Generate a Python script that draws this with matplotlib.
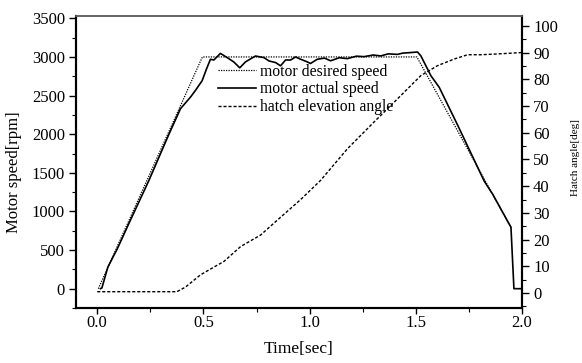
import matplotlib
matplotlib.use("Agg")
import matplotlib.pyplot as plt
from matplotlib.ticker import MultipleLocator

plt.rcParams['font.family'] = ['Liberation Serif', 'DejaVu Serif']
plt.rcParams['font.size'] = 10

# desired speed
t_des = [0.005, 0.495, 1.505, 1.948]
v_des = [0, 3000, 3000, 790]

# actual speed
t_act = [0.015, 0.022, 0.05, 0.094, 0.15, 0.242, 0.336, 0.392, 0.439, 0.462, 0.494, 0.514,
         0.533, 0.549, 0.580, 0.612, 0.643, 0.671, 0.698, 0.745, 0.785, 0.809, 0.840,
         0.863, 0.887, 0.910, 0.934, 0.958, 0.989, 1.004, 1.036, 1.07, 1.099, 1.14, 1.178,
         1.22, 1.256, 1.30, 1.335, 1.37, 1.413, 1.44, 1.468, 1.508, 1.524, 1.571, 1.610,
         1.700, 1.822, 1.862, 1.948, 1.962, 2.0]
v_act = [0, 10, 280, 514, 850, 1393, 1990, 2330, 2480, 2565, 2693, 2841,
         2970, 2960, 3046, 2991, 2935, 2859, 2936, 3012, 2991, 2948, 2927,
         2885, 2961, 2960, 3000, 2970, 2936, 2915, 2970, 2985, 2950, 2990, 2978,
         3010, 3004, 3025, 3013, 3040, 3033, 3050, 3055, 3064, 3013, 2757, 2608,
         2100, 1393, 1223, 796, 0, 0]

# hatch elevation angle
t_hat = [0.0, 0.375, 0.415, 0.486, 0.549, 0.596, 0.675, 0.769, 0.848, 0.958, 1.052,
         1.178, 1.303, 1.39, 1.453, 1.524, 1.602, 1.681, 1.744, 1.807, 1.885, 1.995]
a_hat = [0.5, 0.5, 2.2, 6.8, 9.7, 11.8, 17.4, 21.7, 27.3, 35.0, 42.2,
         54.0, 64.0, 70.8, 75.8, 81.4, 85.1, 87.6, 89.2, 89.2, 89.5, 90.0]

labels = ['motor desired speed', 'motor actual speed', 'hatch elevation angle']

W, H = 582, 363
fig = plt.figure(figsize=(W/100, H/100), dpi=100)
L, R, T, B = 76, 522, 16, 308
ax = fig.add_axes([L/W, 1-B/H, (R-L)/W, (B-T)/H])
ax2 = ax.twinx()

l1, = ax.plot(t_des, v_des, color='black', lw=0.9, linestyle=(0, (1, 1)))
l2, = ax.plot(t_act, v_act, color='black', lw=1.2, linestyle='-')
l3, = ax2.plot(t_hat, a_hat, color='black', lw=1.0, linestyle=(0, (2.2, 1.4)))

ax.set_xlim(-0.1, 2.0)
ax.set_ylim(-250, 3530)
ax2.set_ylim(-5.6, 103.7)

ax.xaxis.set_major_locator(MultipleLocator(0.5))
ax.xaxis.set_minor_locator(MultipleLocator(0.25))
ax.yaxis.set_major_locator(MultipleLocator(500))
ax.yaxis.set_minor_locator(MultipleLocator(250))
ax2.yaxis.set_major_locator(MultipleLocator(10))
ax2.yaxis.set_minor_locator(MultipleLocator(5))
ax.set_xticks([0.0, 0.5, 1.0, 1.5, 2.0])
ax.set_xticklabels(['0.0', '0.5', '1.0', '1.5', '2.0'])
ax2.set_yticks(list(range(0, 101, 10)))

for a in (ax, ax2):
    a.tick_params(which='major', direction='out', length=5, width=1.0, labelsize=12, pad=3)
    a.tick_params(which='minor', direction='out', length=3, width=0.8)
ax.tick_params(axis='x', which='major', length=4, pad=1)
ax.tick_params(top=False, right=False)
ax2.tick_params(top=False, left=False)

for a in (ax, ax2):
    a.spines['left'].set_linewidth(1.5)
    a.spines['bottom'].set_linewidth(1.5)
    a.spines['right'].set_linewidth(1.5)
    a.spines['top'].set_linewidth(1.2)
    a.spines['top'].set_color('#666666')

ax.set_xlabel('Time[sec]', fontsize=12.5)
ax.xaxis.set_label_coords((299-L)/(R-L), (B-341)/(B-T))
ax.set_ylabel('Motor speed[rpm]', fontsize=12)
ax.yaxis.label.set_va('center')
ax.yaxis.set_label_coords((13.5-L)/(R-L), (B-172)/(B-T))
ax2.set_ylabel('Hatch angle[deg]', fontsize=8)
ax2.yaxis.label.set_va('center')
ax2.yaxis.set_label_coords((575-L)/(R-L), (B-157)/(B-T))

leg = ax2.legend([l1, l2, l3], labels, loc='upper left',
                 bbox_to_anchor=((218-L)/(R-L), (B-63.5)/(B-T)),
                 frameon=False, borderpad=0, borderaxespad=0,
                 handlelength=2.4, handletextpad=0.25, labelspacing=0.12, fontsize=11.3)

fig.savefig('out.png', dpi=100)
